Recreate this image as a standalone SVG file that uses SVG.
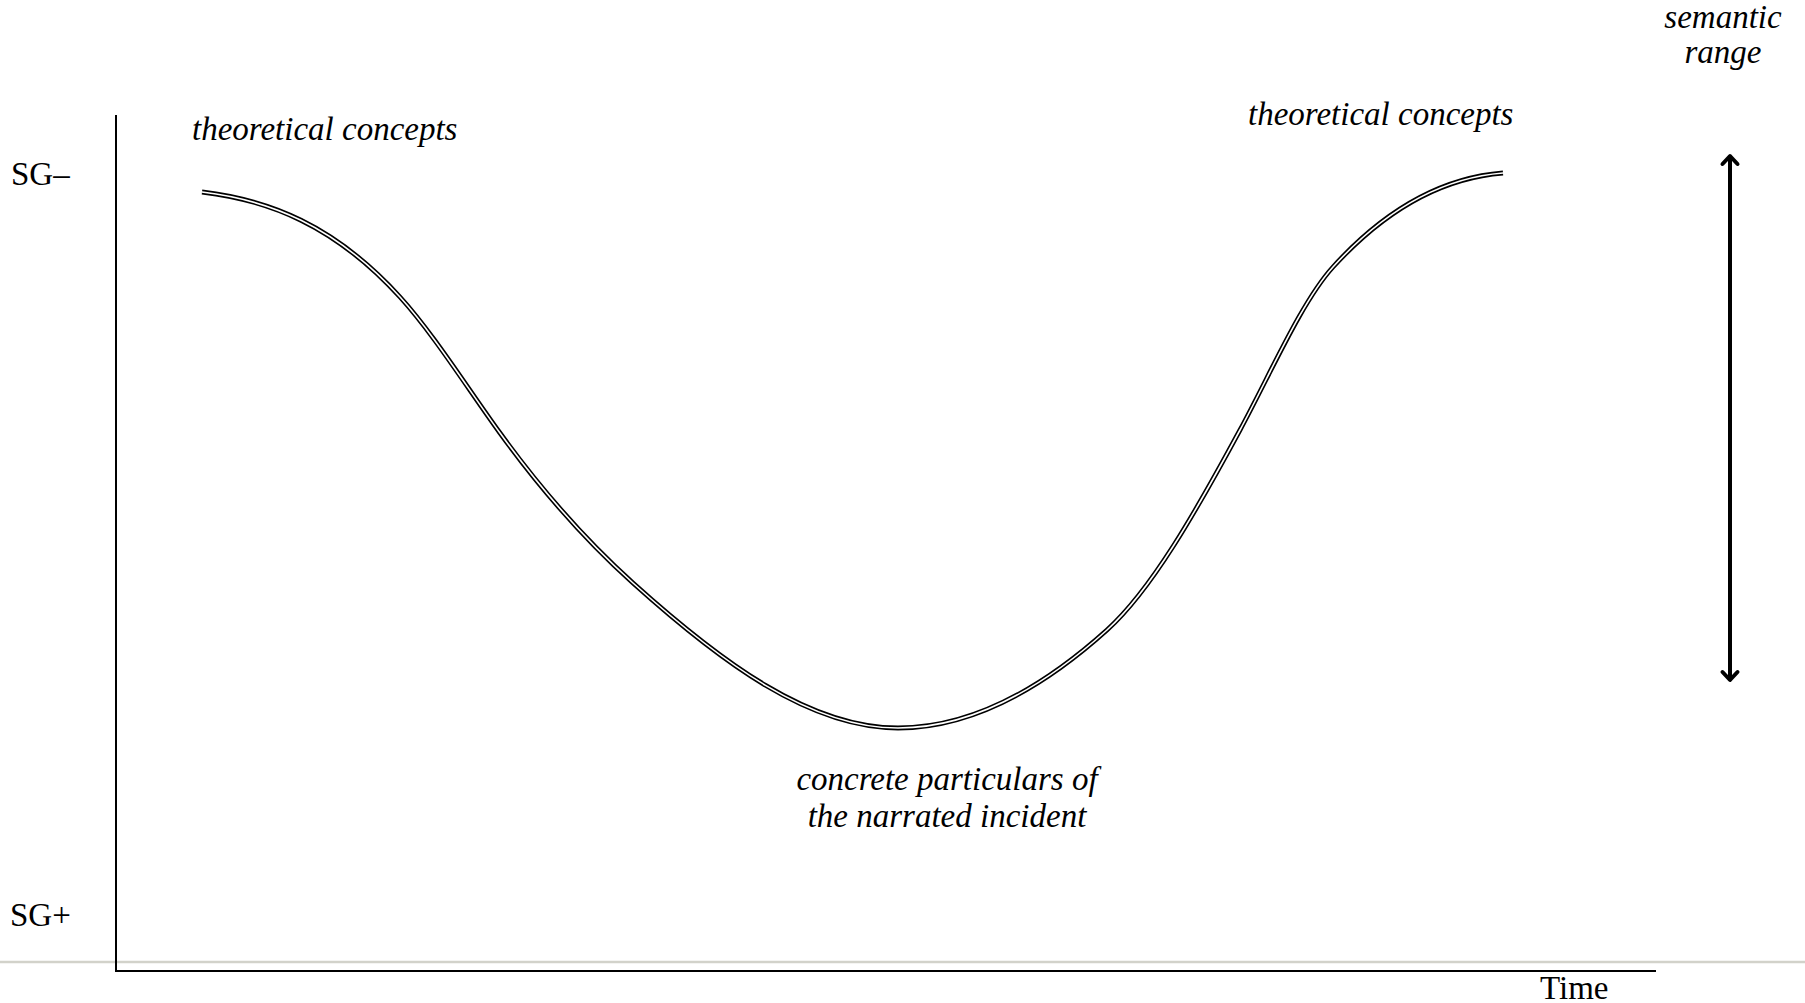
<svg xmlns="http://www.w3.org/2000/svg" width="1805" height="1003" viewBox="0 0 1805 1003">
<style>
.t{font-family:"Liberation Serif","Times New Roman",serif;font-size:33px;fill:#000}
.i{font-style:italic}
.ax{stroke:#000;stroke-width:2;fill:none}
.arr{stroke:#000;stroke-width:4;fill:none;stroke-linecap:round;stroke-linejoin:round}
.outer{fill:none;stroke:#000;stroke-width:4.8}
.inner{fill:none;stroke:#fff;stroke-width:1.6}
</style>
<defs>
<path id="wave" d="M202,192 C268,199.9 334,224.4 400,297 C433.3,333.7 466.7,387 500,433 C544.3,494.2 588.7,543.1 633,583 C721.3,662.5 809.7,728 898,728 C967.7,728 1037.3,692.7 1107,630 C1151.3,590.1 1195.7,512 1240,430 C1271,372.6 1302,301.1 1333,267 C1389.7,204.6 1446.3,177.5 1503,173"/>
</defs>
<rect width="1805" height="1003" fill="#fff"/>
<line x1="0" y1="962" x2="1805" y2="962" stroke="#d2d2ca" stroke-width="2.5"/>
<g id="axes">
<line class="ax" x1="116" y1="115" x2="116" y2="971"/>
<line class="ax" x1="115" y1="971" x2="1656" y2="971"/>
</g>
<g id="labels">
<text class="t" x="11" y="185">SG–</text>
<text class="t" x="10" y="926">SG+</text>
<text class="t" x="1540" y="999">Time</text>
<text class="t i" x="192" y="140">theoretical concepts</text>
<text class="t i" x="1248" y="125">theoretical concepts</text>
<text class="t i" text-anchor="middle" x="1723" y="28">semantic</text>
<text class="t i" text-anchor="middle" x="1723" y="63">range</text>
<text class="t i" text-anchor="middle" x="947" y="790">concrete particulars of</text>
<text class="t i" text-anchor="middle" x="947" y="827">the narrated incident</text>
</g>
<g id="connectors">
<g id="curve">
<use href="#wave" class="outer"/>
<use href="#wave" class="inner"/>
</g>
<g id="range-arrow">
<line class="arr" x1="1730" y1="157" x2="1730" y2="679"/>
<polyline class="arr" points="1722.5,164 1730,156 1737.5,164"/>
<polyline class="arr" points="1722.5,672 1730,680 1737.5,672"/>
</g>
</g>
</svg>
